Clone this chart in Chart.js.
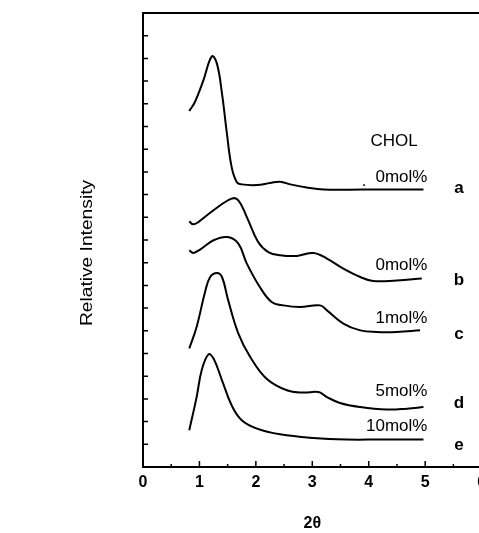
<!DOCTYPE html>
<html>
<head>
<meta charset="utf-8">
<script src="https://cdn.jsdelivr.net/npm/chart.js@4"></script>
<style>
  html, body { margin: 0; padding: 0; background: #fff; overflow: hidden; }
</style>
</head>
<body>
<main></main>
<script>
// SAXS-style intensity curves vs 2θ, stacked (CHOL series a–e)

const curveA_x = [0.82, 0.92, 1.07, 1.22, 1.31, 1.40, 1.48, 1.57, 1.66, 1.75, 2.02, 2.25, 2.43, 2.61, 2.90, 3.20, 3.90, 4.97];
const curveA_y = [15.68, 16.08, 17.03, 18.09, 17.77, 16.45, 14.83, 13.22, 12.56, 12.45, 12.42, 12.51, 12.57, 12.45, 12.31, 12.22, 12.22, 12.22];

const curveB_x = [0.82, 0.89, 0.98, 1.25, 1.57, 1.69, 1.84, 2.04, 2.22, 2.43, 2.73, 3.02, 3.26, 3.55, 3.85, 4.08, 4.50, 4.94];
const curveB_y = [10.82, 10.69, 10.79, 11.31, 11.82, 11.75, 11.01, 9.91, 9.47, 9.33, 9.30, 9.43, 9.18, 8.74, 8.37, 8.19, 8.22, 8.30];

const curveC_x = [0.82, 0.89, 1.01, 1.25, 1.50, 1.69, 1.84, 2.07, 2.28, 2.49, 2.78, 3.14, 3.26, 3.55, 3.85, 4.14, 4.50, 4.91];
const curveC_y = [9.55, 9.43, 9.58, 9.99, 10.13, 9.84, 8.96, 7.93, 7.27, 7.12, 7.05, 7.12, 6.90, 6.32, 6.02, 5.95, 5.95, 6.02];

const curveD_x = [0.82, 0.95, 1.10, 1.19, 1.31, 1.40, 1.51, 1.69, 1.90, 2.19, 2.55, 2.84, 3.11, 3.26, 3.49, 3.85, 4.32, 4.68, 4.97];
const curveD_y = [5.22, 6.17, 7.71, 8.37, 8.55, 8.37, 7.34, 5.88, 4.85, 3.89, 3.38, 3.28, 3.30, 3.08, 2.82, 2.64, 2.53, 2.57, 2.64];

const curveE_x = [0.82, 0.95, 1.04, 1.16, 1.25, 1.40, 1.57, 1.75, 2.02, 2.43, 3.02, 3.61, 4.20, 4.97];
const curveE_y = [1.62, 3.08, 4.26, 4.96, 4.78, 3.82, 2.72, 2.06, 1.69, 1.44, 1.28, 1.21, 1.21, 1.21];

const curveLetters = ['a', 'b', 'c', 'd', 'e'];
const concLabels = ['0mol%', '0mol%', '1mol%', '5mol%', '10mol%'];
const legendTitle = 'CHOL';
const xTickLabels = ['0', '1', '2', '3', '4', '5', '6'];
const xTitle = '2θ';
const yTitle = 'Relative Intensity';

document.addEventListener('DOMContentLoaded', function () {
    const main = document.querySelector('main');
    const canvas = document.createElement('canvas');
    canvas.width = 490;
    canvas.height = 533;
    canvas.style.cssText = 'display:block;';
    main.appendChild(canvas);

    const FONT = "'Liberation Sans', Arial, sans-serif";
    const toPts = (xs, ys) => xs.map((x, i) => ({ x: x, y: ys[i] }));
    const series = [
        toPts(curveA_x, curveA_y),
        toPts(curveB_x, curveB_y),
        toPts(curveC_x, curveC_y),
        toPts(curveD_x, curveD_y),
        toPts(curveE_x, curveE_y)
    ];

    // label placement in data units (x, y)
    const letterPos = [[5.60, 12.28], [5.60, 8.22], [5.60, 5.85], [5.60, 2.81], [5.60, 0.96]];
    const concPos = [[5.04, 12.76], [5.04, 8.89], [5.04, 6.55], [5.04, 3.33], [5.04, 1.79]];

    const framePlugin = {
        id: 'frame',
        afterDatasetsDraw(chart) {
            const { ctx, chartArea: a, scales } = chart;
            const xs = scales.x, ys = scales.y;
            ctx.save();
            ctx.strokeStyle = '#000';
            ctx.fillStyle = '#000';
            ctx.lineWidth = 2;
            ctx.strokeRect(a.left, a.top, a.right - a.left, a.bottom - a.top);

            // inward ticks
            ctx.lineWidth = 1.5;
            ctx.beginPath();
            for (let v = 1; v < 20; v++) {
                const y = ys.getPixelForValue(v);
                ctx.moveTo(a.left, y);
                ctx.lineTo(a.left + 5, y);
            }
            for (let v = 0.5; v < 6; v += 0.5) {
                const x = xs.getPixelForValue(v);
                const len = Number.isInteger(v) ? 6 : 3;
                ctx.moveTo(x, a.bottom);
                ctx.lineTo(x, a.bottom - len);
            }
            ctx.stroke();

            // x tick labels
            ctx.font = 'bold 16px ' + FONT;
            ctx.textAlign = 'center';
            ctx.textBaseline = 'middle';
            xTickLabels.forEach((t, i) => {
                ctx.fillText(t, xs.getPixelForValue(i), a.bottom + 16);
            });
            ctx.fillText(xTitle, (a.left + a.right) / 2, a.bottom + 57);

            // y title, stretched like the scan
            ctx.save();
            ctx.translate(88, (a.top + a.bottom) / 2 + 13);
            ctx.rotate(-Math.PI / 2);
            ctx.scale(1.2, 1);
            ctx.font = '16px ' + FONT;
            ctx.fillText(yTitle, 0, 0);
            ctx.restore();

            // curve annotations
            ctx.font = '17px ' + FONT;
            ctx.textAlign = 'center';
            ctx.fillText(legendTitle, xs.getPixelForValue(4.45), ys.getPixelForValue(14.35));
            ctx.textAlign = 'right';
            concLabels.forEach((t, i) => {
                ctx.fillText(t, xs.getPixelForValue(concPos[i][0]), ys.getPixelForValue(concPos[i][1]));
            });
            ctx.textAlign = 'center';
            ctx.fillText('.', xs.getPixelForValue(3.92), ys.getPixelForValue(12.6));
            ctx.font = 'bold 17px ' + FONT;
            curveLetters.forEach((t, i) => {
                ctx.fillText(t, xs.getPixelForValue(letterPos[i][0]), ys.getPixelForValue(letterPos[i][1]));
            });
            ctx.restore();
        }
    };

    new Chart(canvas, {
        type: 'scatter',
        data: {
            datasets: series.map((pts, i) => ({
                label: curveLetters[i],
                data: pts,
                showLine: true,
                borderColor: '#000',
                borderWidth: 2,
                pointRadius: 0,
                tension: 0.4,
                fill: false
            }))
        },
        options: {
            responsive: false,
            animation: false,
            devicePixelRatio: 1,
            layout: { padding: { left: 143, top: 13, right: 8.4, bottom: 66 } },
            plugins: { legend: { display: false }, tooltip: { enabled: false } },
            scales: {
                x: { type: 'linear', min: 0, max: 6, display: false },
                y: { type: 'linear', min: 0, max: 20, display: false }
            }
        },
        plugins: [framePlugin]
    });
});
</script>
</body>
</html>
